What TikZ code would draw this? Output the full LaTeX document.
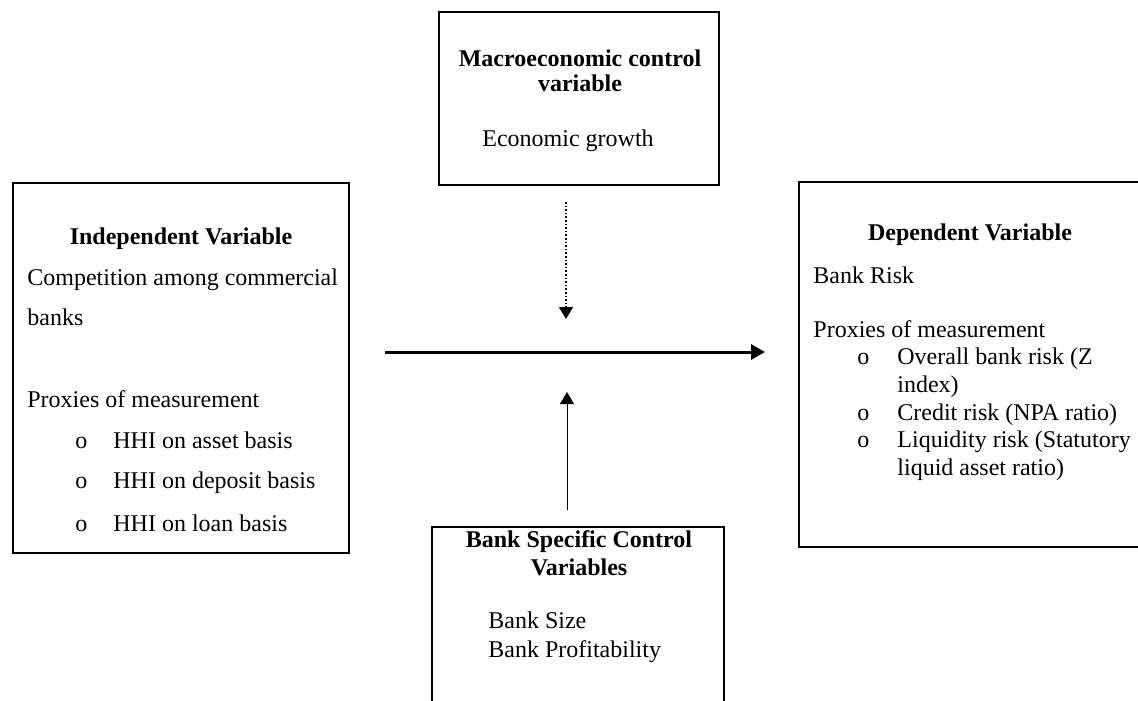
\documentclass[tikz,border=0pt]{standalone}
\usepackage{fontspec}
\setmainfont{Liberation Serif}
\usetikzlibrary{arrows.meta,positioning}

\tikzset{
  box/.style={draw, line width=0.75pt, inner sep=0pt},
  txt/.style={anchor=base west, inner sep=0pt, font=\fontsize{12}{14}\selectfont},
  head/.style={anchor=base, inner sep=0pt, font=\fontsize{12}{14}\selectfont\bfseries},
  link/.style={-{Triangle[length=6pt,width=7pt]}}
}

\begin{document}
\begin{tikzpicture}[x=0.5pt, y=-0.5pt]
                \useasboundingbox (0,0) rectangle (1138,700);

                % Boxes
                \node (indep) [box, minimum width=168pt, minimum height=185pt] at (181,368) {};
                \node (macro) [box, minimum width=140pt, minimum height=86.5pt] at (579,98.5) {};
                \node (dep) [box, minimum width=173pt, minimum height=182.5pt] at (972,364.5) {};
                \node (bank) [box, minimum width=146pt, minimum height=116.5pt] at (578,643.5) {};

                % Independent variable
                \node (indephead) [head] at (181,244) {Independent Variable};
                \node (indepcomp) [txt] at (27,285) {Competition among commercial};
                \node (indepbanks) [txt] at (27,325) {banks};
                \node (indepprox) [txt] at (27,407) {Proxies of measurement};
                \foreach \y/\t [count=\i] in {448/HHI on asset basis, 488/HHI on deposit basis, 531/HHI on loan basis} {
                  \node (indepo\i) [txt] at (75,\y) {o};
                  \node (indepitem\i) [txt] at (113,\y) {\t};
                }

                % Macroeconomic control variable
                \node (macrohead) [head] at (580,67) {Macroeconomic control};
                \node (macrohead2) [head] at (580,92) {variable};
                \node (macrogrowth) [txt] at (482,147) {Economic growth};

                % Dependent variable
                \node (dephead) [head] at (970,240) {Dependent Variable};
                \node (deprisk) [txt] at (813,283) {Bank Risk};
                \node (depprox) [txt] at (813,337) {Proxies of measurement};
                \foreach \y in {364,420,447} {
                  \node (depo\y) [txt] at (857,\y) {o};
                }
                \node (depitem1) [txt] at (897,364) {Overall bank risk (Z};
                \node (depitem1b) [txt] at (897,392) {index)};
                \node (depitem2) [txt] at (897,420) {Credit risk (NPA ratio)};
                \node (depitem3) [txt] at (897,447) {Liquidity risk (Statutory};
                \node (depitem3b) [txt] at (897,475) {liquid asset ratio)};

                % Bank specific control variables
                \node (bankhead) [head] at (579,547) {Bank Specific Control};
                \node (bankhead2) [head] at (579,575) {Variables};
                \node (banksize) [txt] at (488,628) {Bank Size};
                \node (bankprof) [txt] at (488,657) {Bank Profitability};

                % Arrow ends
                \coordinate (mainstart) at (385,352);
                \coordinate (mainend) at (765,352);
                \coordinate (macrostart) at (566,202);
                \coordinate (macroend) at (566,319);
                \coordinate (bankstart) at (567,510);
                \coordinate (bankend) at (567,392);

                % Connections
                \draw[-{Triangle[length=7pt,width=7.5pt]}, line width=1.5pt] (mainstart) -- (mainend);
                \draw[link, densely dotted, line width=0.8pt] (macrostart) -- (macroend);
                \draw[link, line width=0.5pt] (bankstart) -- (bankend);
            \end{tikzpicture}
\end{document}
